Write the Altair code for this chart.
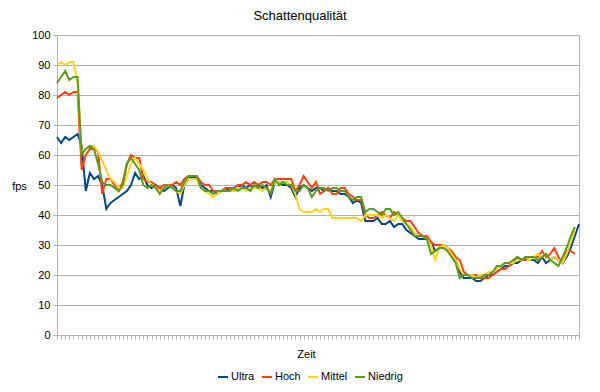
import altair as alt
import pandas as pd

series_names = ["Ultra", "Hoch", "Mittel", "Niedrig"]
colors = ["#004586", "#ff420e", "#ffd320", "#579d1c"]

ultra = [66,64,66,65,66,67,63,48,54,52,
         53,50,42,44,45,46,47,48,50,54,
         52,53,50,49,50,49,48,49,50,49,
         43,50,52,53,52,50,49,48,48,47,
         48,48,49,48,49,50,49,50,49,50,
         49,50,46,51,51,50,50,49,46,49,
         50,49,48,49,49,48,49,48,48,47,
         47,46,44,45,44,38,38,38,39,37,
         37,38,36,37,37,35,34,33,32,32,
         32,31,28,29,30,29,27,25,21,19,
         19,19,18,18,19,20,20,21,22,23,
         23,24,24,25,26,25,25,24,26,24,
         25,26,25,24,26,29,33,37]

hoch = [79,80,81,80,81,81,55,60,62,62,
        61,47,52,52,50,48,51,57,60,59,
        59,52,51,51,50,49,50,50,50,51,
        50,52,53,53,53,51,50,50,48,48,
        48,49,49,49,50,50,51,50,51,50,
        51,51,50,52,52,52,52,52,48,50,
        53,51,49,51,47,48,49,47,47,49,
        49,47,46,45,45,40,39,39,40,41,
        40,39,41,40,39,38,38,36,34,33,
        33,31,30,30,30,29,28,26,25,21,
        20,20,20,19,19,19,20,21,22,22,
        23,24,26,25,25,26,26,26,28,26,
        27,29,26,24,28,28,27]

mittel = [90,91,90,91,91,84,61,62,63,63,
          61,58,55,52,51,49,49,53,57,59,
          57,55,52,50,49,48,49,50,49,48,
          47,50,52,52,52,49,48,47,46,47,
          48,48,48,48,49,49,48,49,49,49,
          48,49,48,51,51,51,51,50,47,42,
          41,41,41,42,41,42,42,39,39,39,
          39,39,39,39,38,40,40,40,40,39,
          40,39,38,40,38,37,36,34,33,33,
          32,30,25,29,30,29,27,25,22,20,
          20,20,19,20,20,21,21,22,23,24,
          24,24,25,25,26,25,26,27,26,27,
          25,26,25,24,27,31,35]

niedrig = [84,86,88,85,86,86,60,62,63,62,
           57,51,50,50,49,48,50,57,59,57,
           55,50,49,50,49,47,49,50,49,48,
           48,51,53,53,53,49,48,48,47,48,
           48,48,48,49,48,49,49,48,50,49,
           50,49,47,52,50,51,50,50,48,48,
           50,49,46,48,49,49,48,49,49,48,
           48,46,45,46,46,41,42,42,41,40,
           42,42,40,41,39,37,35,33,33,33,
           32,27,28,29,29,28,26,24,19,20,
           20,19,19,19,20,20,21,23,23,24,
           24,25,26,25,26,26,26,25,26,27,
           25,24,23,26,29,33,36]

y_ticks = list(range(0, 101, 10))
n_max = len(ultra) - 1

rows = []
for name, vals in zip(series_names, [ultra, hoch, mittel, niedrig]):
    for i, v in enumerate(vals):
        rows.append({"t": i, "fps": v, "Serie": name})
df = pd.DataFrame(rows)

FONT = "Liberation Sans"

chart = alt.Chart(df).mark_line(strokeWidth=2).encode(
    x=alt.X("t:Q",
            scale=alt.Scale(domain=[0, n_max], nice=False, zero=False),
            axis=alt.Axis(title="Zeit", values=list(range(n_max + 1)), labels=False,
                          tickSize=4, grid=False, domainColor="#b3b3b3", tickColor="#b3b3b3",
                          titleFontWeight="normal", titleFontSize=11, titleFont=FONT,
                          titleX=249, titleY=19, titleBaseline="middle", titleAlign="center",
                          titleColor="black")),
    y=alt.Y("fps:Q",
            scale=alt.Scale(domain=[0, 100], nice=False),
            axis=alt.Axis(title="fps", values=y_ticks, tickSize=4, gridColor="#b3b3b3",
                          domainColor="#b3b3b3", tickColor="#b3b3b3", labelPadding=3,
                          labelFont=FONT, labelFontSize=11, labelColor="black",
                          titleAngle=0, titleX=-38, titleY=151, titleAlign="center",
                          titleBaseline="middle", titleFontWeight="normal", titleFontSize=11,
                          titleFont=FONT, titleColor="black")),
    color=alt.Color("Serie:N", sort=series_names,
                    scale=alt.Scale(domain=series_names, range=colors),
                    legend=alt.Legend(title=None, orient="none", direction="horizontal",
                                      legendX=160, legendY=336, symbolType="stroke",
                                      symbolSize=100, symbolStrokeWidth=2, labelOffset=2,
                                      columnPadding=3, padding=0, labelFont=FONT,
                                      labelFontSize=11, labelColor="black")),
).properties(
    width=522,
    height=300,
    title=alt.TitleParams("Schattenqualität", font=FONT, fontSize=13, fontWeight="normal",
                          anchor="middle", dx=-18, offset=6, color="black"),
    autosize=alt.AutoSizeParams(type="none"),
    padding={"left": 49, "top": 27, "right": 13, "bottom": 49},
).configure_view(stroke="#b3b3b3")

chart.save("out.html", embed_options={"renderer": "svg", "actions": False})
